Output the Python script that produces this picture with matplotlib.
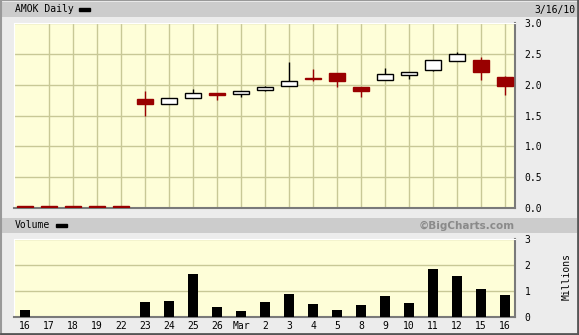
import numpy as np
import matplotlib
matplotlib.use("Agg")
import matplotlib.pyplot as plt
from matplotlib.patches import Rectangle

# -- data --------------------------------------------------
dates = ['16', '17', '18', '19', '22', '23', '24', '25', '26', 'Mar',
         '2', '3', '4', '5', '8', '9', '10', '11', '12', '15', '16']
opens = [0.04, 0.04, 0.04, 0.04, 0.04, 1.76, 1.69, 1.785, 1.87, 1.85,
         1.915, 1.98, 2.10, 2.195, 1.97, 2.07, 2.15, 2.245, 2.39, 2.40, 2.13]
highs = [0.04, 0.04, 0.04, 0.04, 0.04, 1.90, 1.785, 1.935, 1.87, 1.898,
         1.984, 2.36, 2.26, 2.195, 1.97, 2.275, 2.205, 2.40, 2.535, 2.45, 2.145]
lows = [0.02, 0.02, 0.02, 0.02, 0.02, 1.50, 1.69, 1.785, 1.75, 1.795,
        1.898, 1.98, 2.065, 1.955, 1.795, 2.07, 2.085, 2.215, 2.39, 2.08, 1.825]
closes = [0.02, 0.02, 0.02, 0.02, 0.02, 1.68, 1.785, 1.866, 1.83, 1.898,
          1.963, 2.065, 2.09, 2.055, 1.89, 2.17, 2.205, 2.40, 2.50, 2.20, 1.975]
volume = [0.27, 0, 0, 0, 0, 0.58, 0.63, 1.66, 0.39, 0.23, 0.58,
          0.89, 0.50, 0.28, 0.47, 0.81, 0.54, 1.85, 1.58, 1.08, 0.85]
price_ticks = [0.0, 0.5, 1.0, 1.5, 2.0, 2.5, 3.0]
vol_ticks = [0, 1, 2, 3]

W, H = 579, 335
BG = '#ececec'
BAND = '#cccccc'
PLOT = '#fefed8'
GRID = '#c8c896'
RED = '#990000'
MONO = 'DejaVu Sans Mono'

fig = plt.figure(figsize=(W / 100, H / 100), dpi=100, facecolor=BG)


def box(x0, y0, x1, y1):
    # pixel box (top-left origin) -> figure fractions
    return [x0 / W, 1 - y1 / H, (x1 - x0) / W, (y1 - y0) / H]


def fx(x):
    return x / W


def fy(y):
    return 1 - y / H


# header bands
for y0, y1 in [(2, 17), (218, 233)]:
    fig.patches.append(Rectangle((fx(2), fy(y1)), fx(575), (y1 - y0) / H,
                                 transform=fig.transFigure, facecolor=BAND,
                                 edgecolor='none', zorder=0))
# outer frame: light top/left, dark bottom/right
fig.add_artist(plt.Line2D([0.001, 0.001, 0.999], [0.001, 0.999, 0.999],
                          transform=fig.transFigure, color='#999999', lw=1.5))
fig.add_artist(plt.Line2D([0.001, 0.998, 0.998], [0.003, 0.003, 0.999],
                          transform=fig.transFigure, color='#555555', lw=2))

fig.text(fx(15), fy(9.5), 'AMOK Daily', family=MONO, fontsize=7, va='center')
fig.patches.append(Rectangle((fx(79), fy(11)), 11 / W, 3 / H,
                             transform=fig.transFigure, color='black'))
fig.text(fx(575), fy(9.5), '3/16/10', family=MONO, fontsize=7, va='center', ha='right')
fig.text(fx(15), fy(225.5), 'Volume', family=MONO, fontsize=7, va='center')
fig.patches.append(Rectangle((fx(56), fy(227)), 11 / W, 3 / H,
                             transform=fig.transFigure, color='black'))
fig.text(fx(515), fy(225.5), '\u00a9BigCharts.com', fontsize=7.5, weight='bold',
         color='#8a8a8a', va='center', ha='right')
fig.text(fx(567), fy(276), 'Millions', family=MONO, fontsize=7, rotation=90,
         va='center', ha='center')

x = np.arange(len(dates))
xlim = (-0.46, 20.42)


def style(ax):
    ax.set_facecolor(PLOT)
    ax.set_xlim(*xlim)
    ax.set_xticks(x[1:], minor=True)
    ax.grid(which='minor', axis='x', color=GRID, lw=1)
    ax.grid(which='major', axis='y', color=GRID, lw=1)
    ax.set_axisbelow(True)
    ax.yaxis.tick_right()
    ax.tick_params(which='both', length=0, labelsize=7, pad=7)
    for lab in ax.get_yticklabels():
        lab.set_family(MONO)
    for s in ['left', 'top']:
        ax.spines[s].set_color('white')
    for s in ['right', 'bottom']:
        ax.spines[s].set_color('#7a7a7a')
        ax.spines[s].set_linewidth(1.5)


# -- price panel -------------------------------------------
ax = fig.add_axes(box(14, 23, 515, 208))
ax.set_ylim(0, 3)
ax.set_yticks(price_ticks, [f'{v:.1f}' for v in price_ticks])
ax.set_xticks([])
style(ax)

o = np.array(opens)
c = np.array(closes)
up = c >= o
col = np.where(up, 'black', RED)
ax.vlines(x, lows, highs, colors=col, lw=1, zorder=2)
ax.bar(x, np.maximum(np.abs(c - o), 0.012), bottom=np.minimum(o, c), width=0.66,
       color=np.where(up, 'white', RED), edgecolor=col, lw=1, zorder=3)

# -- volume panel ------------------------------------------
av = fig.add_axes(box(14, 239, 515, 317))
av.set_ylim(0, 3)
av.set_yticks(vol_ticks, [str(v) for v in vol_ticks])
av.set_xticks(x, dates)
style(av)
av.tick_params(axis='x', pad=3)
for lab in av.get_xticklabels():
    lab.set_family(MONO)
av.bar(x, volume, width=0.45, color='black', zorder=3)

fig.savefig('out.png', dpi=100, facecolor=BG)
